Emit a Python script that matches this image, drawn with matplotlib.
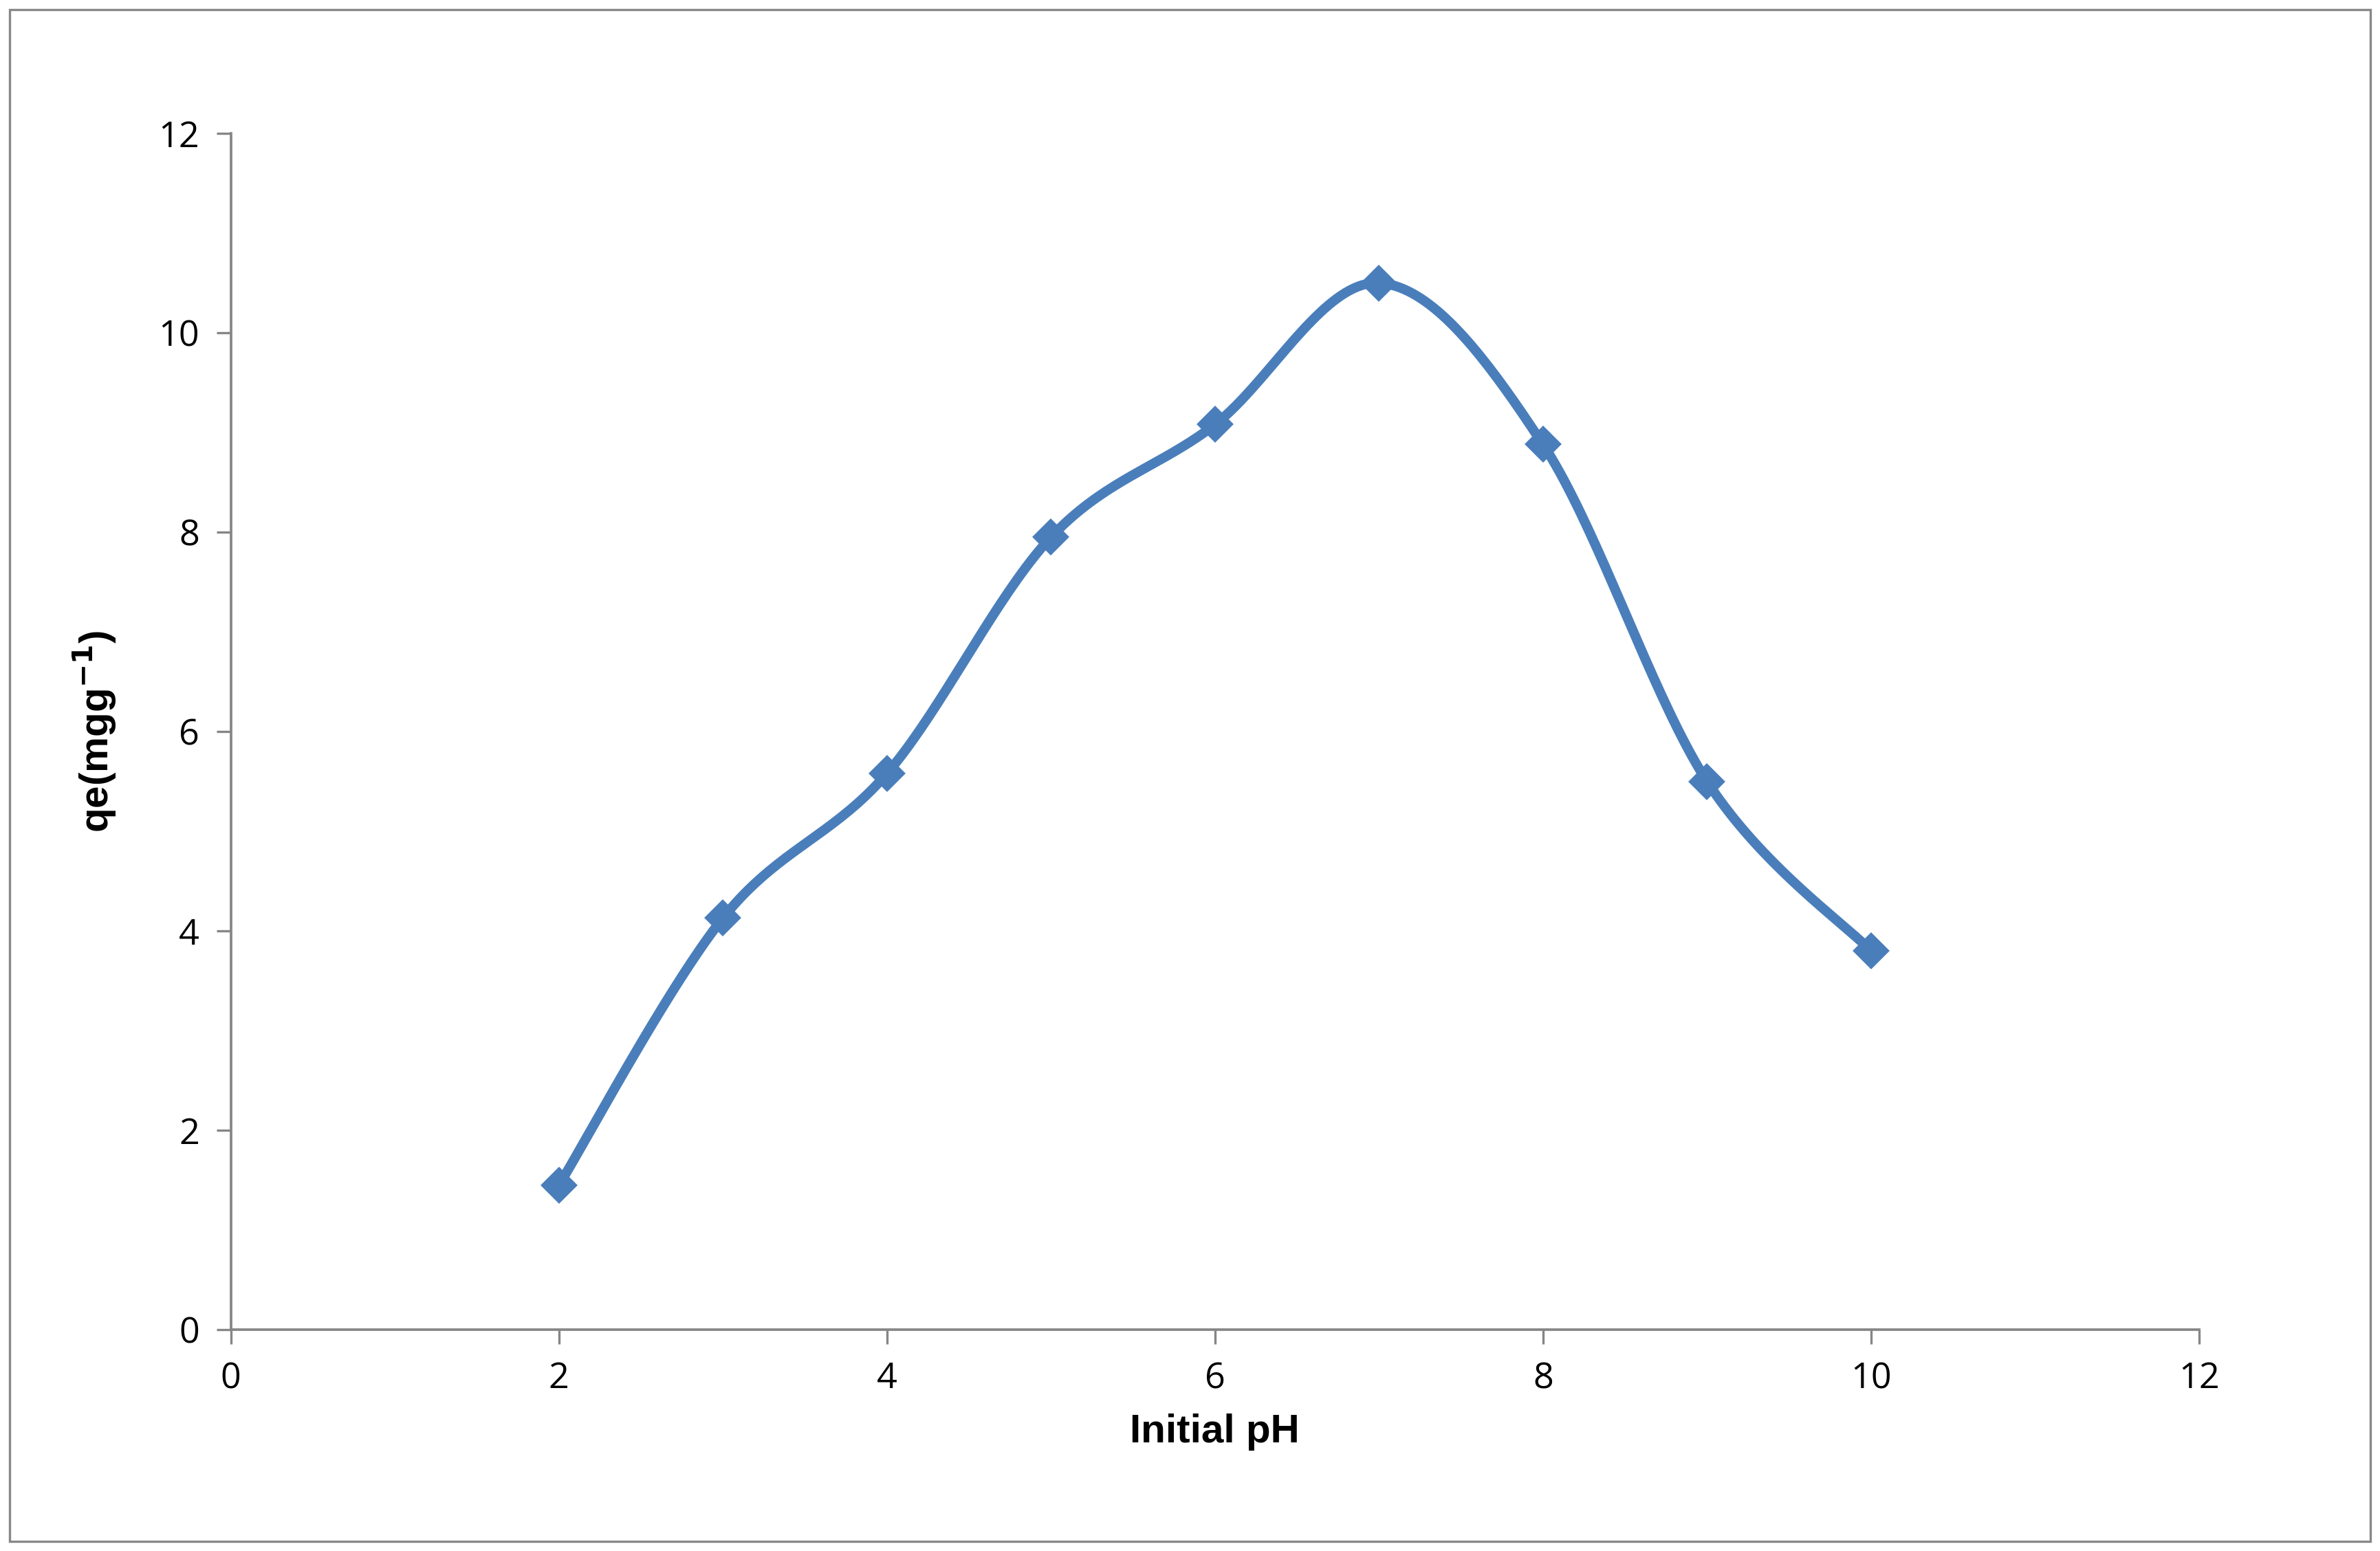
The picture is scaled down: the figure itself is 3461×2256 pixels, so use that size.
import numpy as np
import matplotlib
matplotlib.use("Agg")
import matplotlib.pyplot as plt
from matplotlib.patches import Rectangle

# data
ph = [2, 3, 4, 5, 6, 7, 8, 9, 10]
qe = [1.45, 4.13, 5.58, 7.95, 9.08, 10.5, 8.88, 5.5, 3.8]

LINE = '#4A7EBB'


def smooth(x, y, n=40):
    # Catmull-Rom style smoothing like Excel's smoothed line
    x = np.asarray(x, float); y = np.asarray(y, float)
    px = np.concatenate([[x[0]], x, [x[-1]]])
    py = np.concatenate([[y[0]], y, [y[-1]]])
    xs, ys = [], []
    t = np.linspace(0, 1, n)
    for i in range(1, len(px) - 2):
        p0, p1, p2, p3 = [np.array([px[j], py[j]]) for j in range(i - 1, i + 3)]
        c1 = p1 + (p2 - p0) / 6
        c2 = p2 - (p3 - p1) / 6
        pts = ((1 - t)[:, None] ** 3 * p1 + 3 * ((1 - t) ** 2 * t)[:, None] * c1
               + 3 * ((1 - t) * t ** 2)[:, None] * c2 + (t ** 3)[:, None] * p2)
        xs.extend(pts[:, 0]); ys.extend(pts[:, 1])
    return xs, ys


fig = plt.figure(figsize=(3461 / 300, 2256 / 300), dpi=300)
fig.patches.append(Rectangle((0.004, 0.006), 0.992, 0.988, transform=fig.transFigure,
                             fill=False, edgecolor='#888888', linewidth=0.8))
ax = fig.add_axes([0.097, 0.1426, 0.827, 0.7714])

sx, sy = smooth(ph, qe)
ax.plot(sx, sy, color=LINE, lw=3.4)
ax.plot(ph, qe, linestyle='none', marker='D', markersize=8, color=LINE)

ax.set_xlim(0, 12)
ax.set_ylim(0, 12)
ax.set_xticks(range(0, 13, 2))
ax.set_yticks(range(0, 13, 2))
for s in ['top', 'right']:
    ax.spines[s].set_visible(False)
for s in ['left', 'bottom']:
    ax.spines[s].set_color('#868686')
    ax.spines[s].set_linewidth(0.9)
ax.tick_params(direction='out', length=5, color='#868686', labelsize=12.5, pad=6)
for lab in ax.get_xticklabels() + ax.get_yticklabels():
    lab.set_family('Open Sans')

ax.set_xlabel('Initial pH', fontsize=14, fontweight='bold', family='Liberation Sans', labelpad=6)
ax.set_ylabel(r'qe(mgg$^{\mathregular{\mathbf{-1}}}$)', fontsize=14, fontweight='bold',
              family='Liberation Sans', labelpad=14)

fig.savefig('out.png', dpi=300)
